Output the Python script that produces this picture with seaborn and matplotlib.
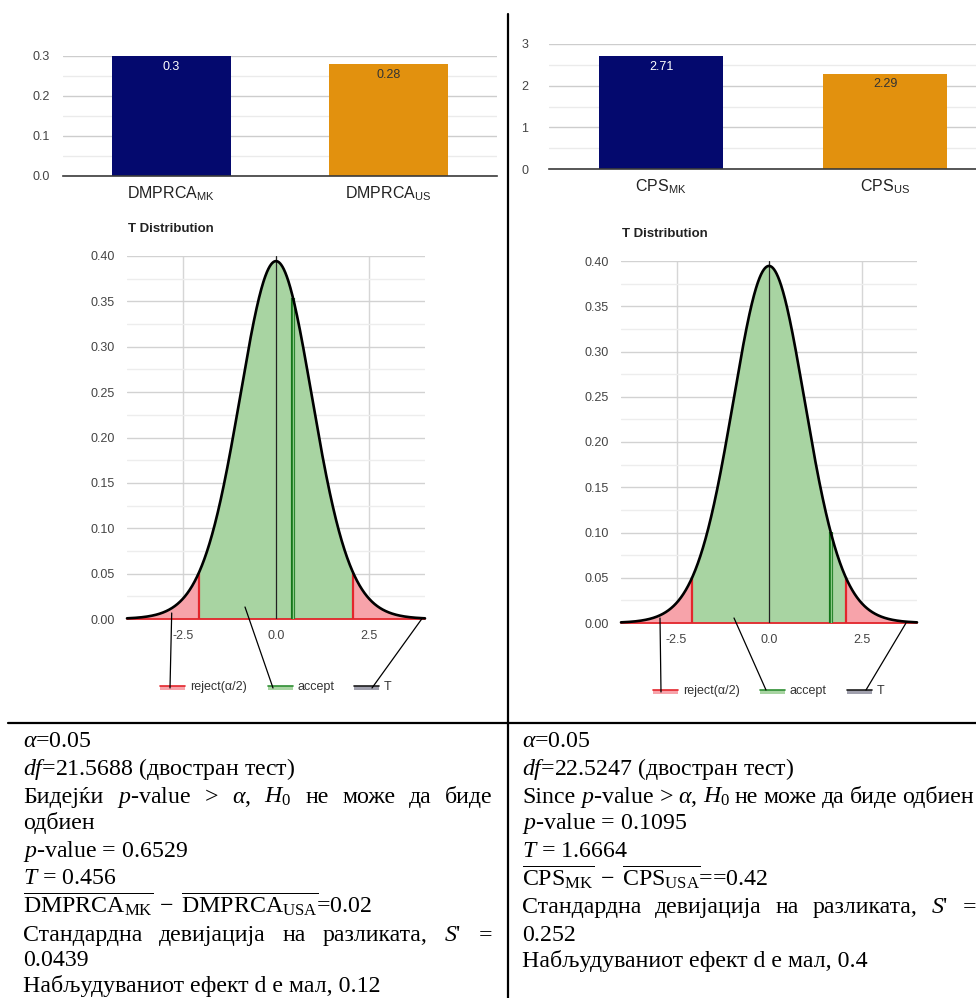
import math
import numpy as np
import pandas as pd
import matplotlib
matplotlib.use("Agg")
import matplotlib.pyplot as plt
from matplotlib.patches import Rectangle
from matplotlib.ticker import FormatStrFormatter, FixedLocator
import seaborn as sns

sns.set_theme(style="white")
plt.rcParams['font.family'] = ['Liberation Sans', 'DejaVu Sans']
plt.rcParams['axes.unicode_minus'] = False
plt.rcParams['mathtext.fontset'] = 'custom'
plt.rcParams['mathtext.rm'] = 'Liberation Serif'
plt.rcParams['mathtext.it'] = 'Liberation Serif:italic'
plt.rcParams['mathtext.bf'] = 'Liberation Serif:bold'
plt.rcParams['mathtext.sf'] = 'Liberation Sans'

# ---- values -------------------------------------------------------------
dmprca_groups = [r"$\mathsf{DMPRCA}_{\mathsf{MK}}$", r"$\mathsf{DMPRCA}_{\mathsf{US}}$"]
dmprca_means = [0.30, 0.28]
cps_groups = [r"$\mathsf{CPS}_{\mathsf{MK}}$", r"$\mathsf{CPS}_{\mathsf{US}}$"]
cps_means = [2.71, 2.29]
bar_colors = ["#04096e", "#e2910e"]

alpha_level = 0.05
deg_freedom = [21.5688, 22.5247]
t_stats = [0.456, 1.6664]
p_vals = [0.6529, 0.1095]
mean_diffs = [0.02, 0.42]
sd_diffs = [0.0439, 0.252]
effect_sizes = [0.12, 0.4]
dist_xticks = [-2.5, 0.0, 2.5]
legend_names = ["reject(α/2)", "accept", "T"]

# ---- figure in pixel units ----------------------------------------------
W, H = 976, 998
fig = plt.figure(figsize=(W / 100, H / 100), dpi=100)
fig.patch.set_facecolor("white")


def add_ax(l, t, r, b):
    return fig.add_axes([l / W, 1 - b / H, (r - l) / W, (b - t) / H])


def t_pdf(x, nu):
    c = math.exp(math.lgamma((nu + 1) / 2) - math.lgamma(nu / 2)) / math.sqrt(nu * math.pi)
    return c * (1 + np.asarray(x) ** 2 / nu) ** (-(nu + 1) / 2)


def t_crit(nu, a):
    # two-sided critical value from the numerically integrated density
    grid = np.linspace(0, 8, 80001)
    dens = t_pdf(grid, nu)
    cdf = np.concatenate([[0], np.cumsum((dens[1:] + dens[:-1]) / 2 * np.diff(grid))])
    return float(np.interp(0.5 - a / 2, cdf, grid))


def bar_panel(box, groups, values, ymax, major, minor, ypad, xpad, yfmt, xmax=1.5):
    ax = add_ax(*box)
    data = pd.DataFrame({"grp": groups, "val": values})
    sns.barplot(data=data, x="grp", y="val", hue="grp", palette=bar_colors,
                width=0.55, saturation=1, linewidth=0, legend=False, ax=ax)
    ax.set_xlim(-0.5, xmax)
    ax.set_ylim(0, ymax)
    ax.yaxis.set_major_locator(FixedLocator(np.arange(0, ymax + 1e-9, major)))
    ax.yaxis.set_minor_locator(FixedLocator(np.arange(0, ymax + 1e-9, minor)))
    ax.yaxis.set_major_formatter(FormatStrFormatter(yfmt))
    ax.grid(True, axis="y", which="major", color="#cdcdcd", lw=1.0)
    ax.grid(True, axis="y", which="minor", color="#ebebeb", lw=1.0)
    ax.set_axisbelow(True)
    for s in ("left", "right", "top"):
        ax.spines[s].set_visible(False)
    ax.spines["bottom"].set_color("#3a3a3a")
    ax.spines["bottom"].set_linewidth(1.2)
    ax.tick_params(axis="y", which="both", length=0, pad=ypad, labelsize=9, labelcolor="#444444")
    ax.tick_params(axis="x", length=0, pad=xpad, labelsize=11.5, labelcolor="#222222")
    ax.set_xlabel("")
    ax.set_ylabel("")
    for i, v in enumerate(values):
        ax.annotate(f"{v:g}", (i, v), xytext=(0, -3.5), textcoords="offset points",
                    ha="center", va="top", fontsize=9,
                    color="white" if i == 0 else "#333333")
    return ax


def t_panel(box, nu, tval):
    ax = add_ax(*box)
    tc = t_crit(nu, alpha_level)
    x_left = np.linspace(-4, -tc, 300)
    x_mid = np.linspace(-tc, tc, 800)
    x_right = np.linspace(tc, 4, 300)
    ax.fill_between(x_left, 0, t_pdf(x_left, nu), color="#f7a3aa", lw=0)
    ax.fill_between(x_right, 0, t_pdf(x_right, nu), color="#f7a3aa", lw=0)
    ax.fill_between(x_mid, 0, t_pdf(x_mid, nu), color="#a8d4a2", lw=0)
    ax.plot([-4, 4], [0, 0], color="#e3262c", lw=1.3, clip_on=False, zorder=3)
    ax.vlines([-tc, tc], 0, t_pdf(tc, nu), color="#e3262c", lw=1.6, zorder=3)
    ax.vlines([tval], 0, t_pdf(tval, nu), color="#14761a", lw=3.0, zorder=4)
    ax.vlines([tval], 0, t_pdf(tval, nu), color="#8ccb87", lw=1.0, zorder=5)
    ax.axvline(0, color="#222222", lw=0.9, zorder=4)
    xs = np.linspace(-4, 4, 1601)
    sns.lineplot(x=xs, y=t_pdf(xs, nu), color="black", lw=1.9, ax=ax, zorder=6)
    ax.lines[-1].set_clip_on(False)
    ax.set_xlim(-4, 4)
    ax.set_ylim(0, 0.40)
    ax.xaxis.set_major_locator(FixedLocator(dist_xticks))
    ax.xaxis.set_major_formatter(FormatStrFormatter("%.1f"))
    ax.yaxis.set_major_locator(FixedLocator(np.arange(0, 0.4001, 0.05)))
    ax.yaxis.set_minor_locator(FixedLocator(np.arange(0, 0.4001, 0.025)))
    ax.yaxis.set_major_formatter(FormatStrFormatter("%.2f"))
    ax.grid(True, axis="y", which="major", color="#d2d2d2", lw=1.0)
    ax.grid(True, axis="y", which="minor", color="#ededed", lw=1.0)
    ax.grid(True, axis="x", which="major", color="#d6d6d6", lw=1.0)
    ax.set_axisbelow(True)
    for s in ax.spines.values():
        s.set_visible(False)
    ax.tick_params(axis="y", which="both", length=0, pad=8.6, labelsize=9, labelcolor="#444444")
    ax.tick_params(axis="x", length=0, pad=8, labelsize=9, labelcolor="#444444")
    ax.set_xlabel("")
    ax.set_ylabel("")
    return ax


# ---- bar charts -----------------------------------------------------------
bar_panel((63, 56, 497, 176), dmprca_groups, dmprca_means, 0.3, 0.1, 0.05, 9.4, 6, "%.1f")
bar_panel((549, 44, 976, 169), cps_groups, cps_means, 3, 1, 0.5, 15, 6, "%d", xmax=1.406)

# ---- t distributions --------------------------------------------------------
t_panel((127, 256, 425, 619), deg_freedom[0], t_stats[0])
t_panel((621, 261, 917, 623), deg_freedom[1], t_stats[1])
fig.text(128 / W, 1 - 229 / H, "T Distribution", fontsize=9.5, fontweight="bold",
         color="#222222", va="center", ha="left")
fig.text(622 / W, 1 - 234 / H, "T Distribution", fontsize=9.5, fontweight="bold",
         color="#222222", va="center", ha="left")

# ---- overlay: frame lines, legends, pointers, text ---------------------------
ov = fig.add_axes([0, 0, 1, 1])
ov.set_xlim(0, W)
ov.set_ylim(H, 0)
ov.axis("off")

ov.plot([508, 508], [14, 998], color="black", lw=1.6)
ov.plot([8, 976], [723, 723], color="black", lw=1.6)

legend_styles = [("#e3262c", "#f7a3aa"), ("#2f8f34", "#a8d4a2"), ("#1e1e1e", "#a0a0ad")]


def legend_row(xs, yc):
    for x, name, (dark, light) in zip(xs, legend_names, legend_styles):
        ov.add_patch(Rectangle((x, yc - 1.5), 25, 4.5, color=light, lw=0))
        ov.plot([x, x + 25], [yc - 1.5, yc - 1.5], color=dark, lw=1.2)
        ov.text(x + 30, yc, name, fontsize=9, color="#333333", va="center", ha="left")


legend_row([160, 268, 354], 687)
legend_row([653, 760, 847], 691)

pointers = [
    [(170, 688), (171.7, 613)], [(273, 688), (245, 607)], [(372, 688), (421.7, 619)],
    [(661, 692), (660, 618)], [(766, 690), (734, 618)], [(866, 690), (906, 623)],
]
for (xa, ya), (xb, yb) in pointers:
    ov.plot([xa, xb], [ya, yb], color="black", lw=0.9)

SERIF = "Liberation Serif"
FS = 17.2


def put(x, y, s):
    return ov.text(x, y, s, fontsize=FS, family=SERIF, va="baseline", ha="left", color="black")


def justify(x0, x1, y, words):
    arts = [put(x0, y, w) for w in words]
    r = fig.canvas.get_renderer()
    widths = [a.get_window_extent(r).width for a in arts]
    gap = (x1 - x0 - sum(widths)) / (len(words) - 1)
    x = x0
    for a, w in zip(arts, widths):
        a.set_x(x)
        x += w + gap


H0 = r"$H_{\mathit{0}}$"

# left column
LX = 23
put(LX, 747, rf"$\alpha$={alpha_level:g}")
put(LX, 775, rf"$df$={deg_freedom[0]:g} (двостран тест)")
justify(LX, 493, 803, ["Бидејќи", r"$p$-value", ">", r"$\alpha$,", H0, "не", "може", "да", "биде"])
put(LX, 829, "одбиен")
put(LX, 857, rf"$p$-value = {p_vals[0]:g}")
put(LX, 884, rf"$T$ = {t_stats[0]:g}")
put(LX, 913, r"$\overline{\mathrm{DMPRCA}_{\mathrm{MK}}}\;-\;\overline{\mathrm{DMPRCA}_{\mathrm{USA}}}$="
    + f"{mean_diffs[0]:g}")
justify(LX, 492, 941, ["Стандардна", "девијација", "на", "разликата,", r"$S$'", "="])
put(LX, 966, f"{sd_diffs[0]:g}")
put(LX, 992, f"Набљудуваниот ефект d е мал, {effect_sizes[0]:g}")

# right column
RX = 522
put(RX, 747, rf"$\alpha$={alpha_level:g}")
put(RX, 775, rf"$df$={deg_freedom[1]:g} (двостран тест)")
justify(RX, 974, 803, ["Since", r"$p$-value", ">", r"$\alpha$,", H0, "не", "може", "да", "биде", "одбиен"])
put(RX, 829, rf"$p$-value = {p_vals[1]:g}")
put(RX, 857, rf"$T$ = {t_stats[1]:g}")
put(RX, 886, r"$\overline{\mathrm{CPS}_{\mathrm{MK}}}\;-\;\overline{\mathrm{CPS}_{\mathrm{USA}}}$=="
    + f"{mean_diffs[1]:g}")
justify(RX, 976, 913, ["Стандардна", "девијација", "на", "разликата,", r"$S$'", "="])
put(RX, 941, f"{sd_diffs[1]:g}")
put(RX, 967, f"Набљудуваниот ефект d е мал, {effect_sizes[1]:g}")

fig.savefig("out.png", dpi=100, facecolor="white")
